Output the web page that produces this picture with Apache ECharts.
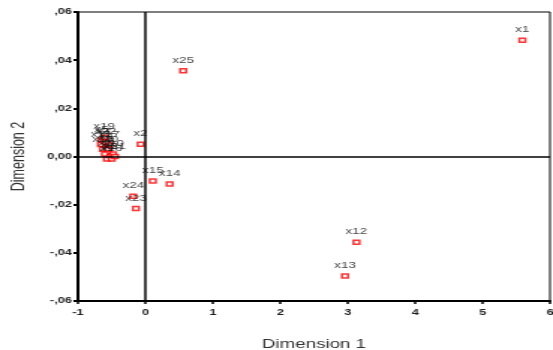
<!DOCTYPE html>
<html>
<head>
<meta charset="utf-8">
<script src="https://cdn.jsdelivr.net/npm/echarts@6/dist/echarts.min.js"></script>
<style>
  html, body { margin: 0; padding: 0; background: #fff; overflow: hidden; }
  /* the original plot is stretched sideways, so draw narrower and widen it */
  #main { width: 369px; height: 350px; transform: scaleX(1.4986); transform-origin: 0 0; }
</style>
</head>
<body>
<div id="main"></div>
<script>
// object labels and their coordinates on the two dimensions
const names = ['x1', 'x25', 'x2', 'x15', 'x14', 'x24', 'x23', 'x12', 'x13',
  'x3', 'x4', 'x5', 'x6', 'x7', 'x8', 'x9', 'x10', 'x11',
  'x16', 'x17', 'x18', 'x19', 'x20', 'x21', 'x22'];
const dim1 = [5.59, 0.56, -0.07, 0.11, 0.36, -0.18, -0.14, 3.13, 2.96,
  -0.62, -0.58, -0.65, -0.55, -0.60, -0.52, -0.57, -0.48, -0.66,
  -0.63, -0.54, -0.50, -0.61, -0.56, -0.45, -0.59];
const dim2 = [0.0483, 0.0356, 0.0051, -0.0102, -0.0114, -0.0165, -0.0216, -0.0356, -0.0496,
  0.006, 0.004, 0.007, 0.002, 0.001, 0.000, -0.001, 0.001, 0.005,
  0.003, 0.005, -0.001, 0.008, 0.003, 0.000, 0.006];

const xTicks = [-1, 0, 1, 2, 3, 4, 5, 6];
const yTickLabels = {'0.06': ',06', '0.04': ',04', '0.02': ',02', '0': '0,00',
  '-0.02': '-,02', '-0.04': '-,04', '-0.06': '-,06'};

let points = [];
for (let i = 0; i < names.length; i++) {
  points.push({ value: [dim1[i], dim2[i]], name: names[i] });
}

const chart = echarts.init(document.getElementById('main'));

const font = 'Liberation Sans, Arial, sans-serif';
const tickFont = { fontFamily: font, fontSize: 8.5, fontWeight: 'bold', color: '#222' };

chart.setOption({
  animation: false,
  grid: {
    left: 52, right: 2, top: 12, bottom: 49,
    outerBoundsMode: 'none',
    show: true, borderColor: '#000', borderWidth: 1
  },
  xAxis: {
    type: 'value', min: xTicks[0], max: xTicks[xTicks.length - 1], interval: 1,
    name: 'Dimension 1', nameLocation: 'middle', nameGap: 37,
    nameTextStyle: { fontFamily: font, fontSize: 12.5, color: '#333' },
    axisLine: { onZero: false, lineStyle: { color: '#000', width: 2 } },
    axisTick: { length: 3, lineStyle: { color: '#000', width: 1.5 } },
    axisLabel: Object.assign({ margin: 7 }, tickFont),
    splitLine: { show: false }
  },
  yAxis: {
    type: 'value', min: -0.06, max: 0.06, interval: 0.02,
    name: 'Dimension 2', nameLocation: 'middle', nameGap: 33,
    nameTextStyle: { fontFamily: font, fontSize: 12.5, color: '#333' },
    axisLine: { onZero: false, lineStyle: { color: '#000', width: 2 } },
    axisTick: { length: 3, lineStyle: { color: '#000', width: 2 } },
    axisLabel: Object.assign({
      margin: 4,
      formatter: function (v) { return yTickLabels[String(+v.toFixed(2))] || ''; }
    }, tickFont),
    splitLine: { show: false }
  },
  series: [{
    type: 'scatter',
    data: points,
    symbol: 'rect',
    symbolSize: 4,
    itemStyle: { color: '#fff', borderColor: '#f00', borderWidth: 1.5 },
    label: {
      show: true, position: 'top', distance: 3,
      formatter: '{b}',
      fontFamily: font, fontSize: 9, color: '#111'
    },
    labelLayout: { hideOverlap: false },
    markLine: {
      silent: true, symbol: 'none',
      lineStyle: { color: '#000', width: 1.5, type: 'solid' },
      label: { show: false },
      data: [{ xAxis: 0 }, { yAxis: 0 }]
    }
  }]
});
</script>
</body>
</html>
